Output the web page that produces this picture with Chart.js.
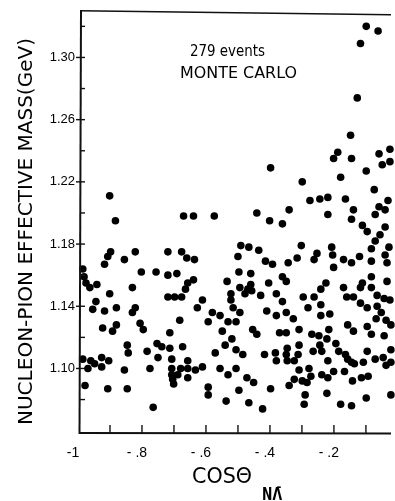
<!DOCTYPE html>
<html>
<head>
<meta charset="utf-8">
<script src="https://cdn.jsdelivr.net/npm/chart.js@4/dist/chart.umd.min.js"></script>
<style>
html,body{margin:0;padding:0;background:#fff;}
#wrap{width:395px;height:501px;position:relative;}
canvas{display:block;}
</style>
</head>
<body>
<div id="wrap"><canvas id="c" width="395" height="501"></canvas></div>
<script>
// ---- data ----
const cosTheta = [
-0.099,-0.062,-0.117,-0.127,-0.148,-0.188,-0.201,-0.145,-0.398,-0.059,
-0.025,-0.099,-0.049,-0.025,-0.179,-0.299,-0.074,-0.275,-0.244,-0.219,
-0.164,-0.031,-0.441,-0.574,-0.639,-0.670,-0.901,-0.883,-0.340,-0.401,
-0.361,-0.219,-0.139,-0.145,-0.071,-0.059,-0.040,-0.111,-0.096,-0.040,
-0.071,-0.056,
-0.898,-0.907,-0.917,-0.821,-0.855,-0.719,-0.676,-0.985,-0.981,-0.975,
-0.963,-0.941,-0.802,-0.756,-0.719,-0.691,-0.830,-0.901,-0.719,-0.698,
-0.676,-0.944,-0.954,-0.917,-0.880,-0.821,-0.830,-0.682,-0.806,-0.796,
-0.880,-0.892,-0.923,-0.713,
-0.660,-0.636,-0.491,-0.466,-0.435,-0.500,-0.414,-0.392,-0.497,-0.460,
-0.639,-0.657,-0.664,-0.534,-0.460,-0.494,-0.469,-0.478,-0.457,-0.522,
-0.522,-0.429,-0.404,-0.361,-0.349,-0.380,-0.611,-0.627,-0.515,-0.361,
-0.410,-0.580,-0.556,-0.494,-0.380,-0.349,-0.593,-0.531,-0.506,-0.549,
-0.454,-0.441,-0.370,-0.349,-0.343,
-0.302,-0.315,-0.253,-0.262,-0.207,-0.204,-0.201,-0.170,-0.145,-0.120,
-0.083,-0.028,-0.040,-0.083,-0.034,-0.083,-0.034,-0.225,-0.241,-0.170,
-0.111,-0.117,-0.083,-0.296,-0.262,-0.160,-0.139,-0.065,-0.043,-0.025,
-0.241,-0.117,-0.096,-0.065,-0.281,-0.327,-0.241,-0.213,-0.052,-0.068,
-0.037,-0.096,-0.157,-0.139,-0.216,-0.309,-0.269,-0.247,-0.083,-0.043,
-0.022,
-0.846,-0.843,-0.784,-0.753,-0.738,-0.713,-0.750,-0.673,-0.985,-0.960,
-0.948,-0.926,-0.904,-0.926,-0.969,-0.855,-0.775,-0.707,-0.707,-0.679,
-0.707,-0.704,-0.701,-0.688,-0.978,-0.907,-0.846,-0.765,
-0.519,-0.540,-0.571,-0.506,-0.485,-0.417,-0.383,-0.380,-0.349,-0.346,
-0.346,-0.657,-0.657,-0.633,-0.611,-0.657,-0.556,-0.531,-0.506,-0.472,
-0.451,-0.593,-0.593,-0.497,-0.398,-0.340,-0.537,-0.466,-0.423,
-0.222,-0.309,-0.312,-0.324,-0.265,-0.244,-0.238,-0.194,-0.185,-0.164,
-0.157,-0.145,-0.136,-0.219,-0.096,-0.071,-0.046,-0.037,-0.022,-0.022,
-0.108,-0.309,-0.278,-0.272,-0.324,-0.299,-0.284,-0.238,-0.219,-0.201,
-0.167,-0.142,-0.114,-0.093,-0.290,-0.293,-0.222,-0.179,-0.145,-0.099,
-0.022
];
const mass = [
1.320,1.317,1.309,1.274,1.250,1.239,1.235,1.235,1.229,1.238,
1.241,1.227,1.231,1.233,1.223,1.220,1.215,1.208,1.209,1.210,
1.209,1.208,1.200,1.198,1.198,1.198,1.211,1.195,1.202,1.195,
1.193,1.199,1.202,1.196,1.199,1.204,1.202,1.192,1.188,1.191,
1.182,1.186,
1.175,1.172,1.167,1.175,1.170,1.175,1.175,1.164,1.159,1.155,
1.152,1.154,1.162,1.162,1.160,1.161,1.152,1.148,1.146,1.146,
1.146,1.143,1.138,1.137,1.139,1.139,1.136,1.131,1.129,1.125,
1.128,1.124,1.126,1.123,
1.171,1.170,1.179,1.178,1.176,1.172,1.169,1.167,1.162,1.161,
1.157,1.155,1.151,1.156,1.154,1.152,1.151,1.148,1.150,1.148,
1.144,1.147,1.155,1.159,1.156,1.148,1.144,1.139,1.139,1.143,
1.137,1.136,1.134,1.136,1.134,1.136,1.130,1.130,1.130,1.124,
1.125,1.122,1.123,1.123,1.168,
1.179,1.171,1.174,1.170,1.178,1.173,1.165,1.170,1.168,1.172,
1.177,1.178,1.173,1.169,1.168,1.159,1.156,1.155,1.151,1.152,
1.155,1.152,1.152,1.146,1.146,1.146,1.146,1.147,1.145,1.144,
1.141,1.142,1.139,1.140,1.139,1.132,1.134,1.135,1.136,1.132,
1.131,1.127,1.128,1.124,1.125,1.125,1.122,1.121,1.122,1.121,
1.128,
1.115,1.110,1.111,1.116,1.114,1.113,1.107,1.114,1.106,1.105,
1.103,1.107,1.105,1.101,1.100,1.099,1.100,1.106,1.100,1.100,
1.096,1.093,1.090,1.096,1.089,1.087,1.087,1.075,
1.119,1.115,1.110,1.112,1.109,1.109,1.110,1.105,1.109,1.113,
1.105,1.105,1.100,1.099,1.101,1.094,1.100,1.096,1.100,1.094,
1.091,1.088,1.083,1.086,1.087,1.089,1.079,1.078,1.074,
1.119,1.115,1.109,1.105,1.111,1.115,1.111,1.116,1.111,1.109,
1.106,1.104,1.103,1.105,1.111,1.106,1.107,1.102,1.112,1.104,
1.104,1.099,1.100,1.095,1.093,1.092,1.091,1.096,1.094,1.098,
1.098,1.092,1.094,1.095,1.083,1.077,1.084,1.077,1.076,1.081,
1.083
];
const xTickValues = [-1,-0.9,-0.8,-0.7,-0.6,-0.5,-0.4,-0.3,-0.2,-0.1];
const xTickLabels = {"-1":"-1","-0.8":"- .8","-0.6":"- .6","-0.4":"- .4","-0.2":"- .2"};
const yTickValues = [1.08,1.10,1.12,1.14,1.16,1.18,1.20,1.22,1.24,1.26,1.28,1.30,1.32];
const yTickLabels = {"1.1":"1.10","1.14":"1.14","1.18":"1.18","1.22":"1.22","1.26":"1.26","1.3":"1.30"};
const yTitle = "NUCLEON-PION EFFECTIVE MASS(GeV)";
const xTitle = "COSΘ";
const xTitleSub = "NΛ\u0304";
const note1 = "279 events";
const note2 = "MONTE CARLO";

const points = cosTheta.map((x,i)=>({x:x,y:mass[i]}));

function keyOf(v){ return String(Math.round(v*100)/100); }

function drawFitted(ctx, text, x, y, font, targetW, rot){
  ctx.save();
  ctx.font = font;
  const w = ctx.measureText(text).width;
  ctx.translate(x, y);
  if (rot) ctx.rotate(rot);
  ctx.scale(targetW / w, 1);
  ctx.textAlign = 'left';
  ctx.textBaseline = 'alphabetic';
  ctx.fillText(text, 0, 0);
  ctx.restore();
}

const framePlugin = {
  id: 'frame',
  afterDraw(chart){
    const ctx = chart.ctx;
    const a = chart.chartArea;
    const xs = chart.scales.x, ys = chart.scales.y;
    ctx.save();
    ctx.strokeStyle = '#111';
    ctx.fillStyle = '#111';
    ctx.lineCap = 'butt';
    // left axis
    ctx.lineWidth = 2;
    ctx.beginPath(); ctx.moveTo(a.left+3, a.top); ctx.lineTo(a.left+1.5, a.bottom+1); ctx.stroke();
    // bottom axis
    ctx.lineWidth = 2.2;
    ctx.beginPath(); ctx.moveTo(a.left+1, a.bottom); ctx.lineTo(a.right, a.bottom+0.5); ctx.stroke();
    // top frame
    ctx.lineWidth = 1.6;
    ctx.beginPath(); ctx.moveTo(a.left+2, a.top); ctx.lineTo(a.right, a.top+4); ctx.stroke();
    // x ticks (inward)
    ctx.lineWidth = 1.4;
    xTickValues.forEach(v=>{
      if (v <= -0.999) return;
      const px = xs.getPixelForValue(v);
      ctx.beginPath(); ctx.moveTo(px, a.bottom); ctx.lineTo(px, a.bottom-8); ctx.stroke();
    });
    // y ticks
    yTickValues.forEach(v=>{
      const py = ys.getPixelForValue(v);
      const lab = yTickLabels[keyOf(v)];
      ctx.beginPath();
      ctx.moveTo(lab ? a.left-2 : a.left+2, py);
      ctx.lineTo(a.left+7, py);
      ctx.stroke();
    });
    // texts
    ctx.fillStyle = '#000';
    drawFitted(ctx, note1, 190, 55.5, '15px "DejaVu Sans"', 75);
    drawFitted(ctx, note2, 180, 77.5, '15px "DejaVu Sans"', 117);
    drawFitted(ctx, yTitle, 32, 425, '20px "DejaVu Sans"', 387, -Math.PI/2);
    drawFitted(ctx, xTitle, 192, 482.5, '21px "DejaVu Sans"', 60);
    drawFitted(ctx, xTitleSub, 262, 500, 'bold 18px "DejaVu Sans"', 20);
    ctx.restore();
  }
};

new Chart(document.getElementById('c'), {
  type: 'scatter',
  data: {
    datasets: [{
      data: points,
      pointRadius: 3.8,
      pointBackgroundColor: '#000',
      pointBorderColor: '#000',
      pointBorderWidth: 0,
      showLine: false,
      clip: false
    }]
  },
  options: {
    responsive: false,
    animation: false,
    devicePixelRatio: 1,
    layout: { padding: { top: 10, right: 0, left: 0, bottom: 0 } },
    plugins: { legend: { display: false }, tooltip: { enabled: false } },
    scales: {
      x: {
        type: 'linear',
        min: -1, max: -0.0216,
        grid: { display: false, drawTicks: false },
        border: { display: false },
        afterBuildTicks: s => { s.ticks = xTickValues.map(v => ({ value: v })); },
        afterFit: s => { s.height = 68; },
        ticks: {
          autoSkip: false, maxRotation: 0, minRotation: 0,
          padding: 12, labelOffset: -5,
          color: '#000',
          font: { family: 'Liberation Sans', size: 14 },
          callback: v => xTickLabels[keyOf(v)] || ''
        }
      },
      y: {
        type: 'linear',
        min: 1.0585, max: 1.330,
        grid: { display: false, drawTicks: false },
        border: { display: false },
        afterBuildTicks: s => { s.ticks = yTickValues.map(v => ({ value: v })); },
        afterFit: s => { s.width = 78; },
        ticks: {
          autoSkip: false,
          padding: 3,
          color: '#000',
          font: { family: 'Liberation Sans', size: 13 },
          callback: v => yTickLabels[keyOf(v)] || ''
        }
      }
    }
  },
  plugins: [framePlugin]
});
</script>
</body>
</html>
